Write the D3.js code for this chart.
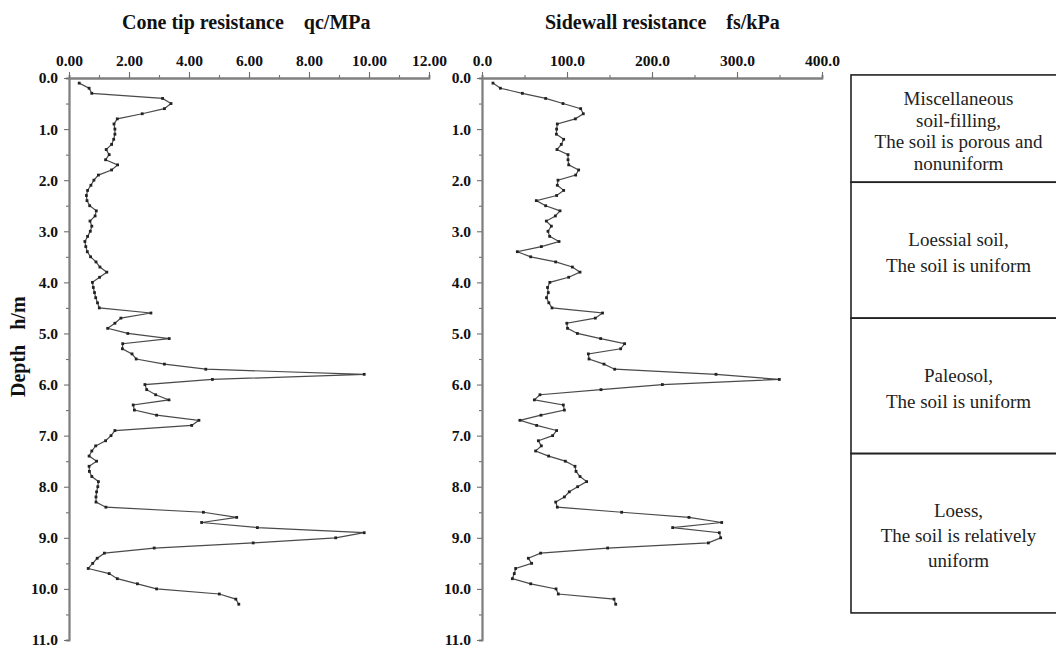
<!DOCTYPE html>
<html>
<head>
<meta charset="utf-8">
<script src="https://cdn.jsdelivr.net/npm/d3@7"></script>
<style>
  body { margin: 0; background: #fff; }
  text { font-family: "Liberation Serif", "Times New Roman", serif; }
</style>
</head>
<body>
<svg id="chart" width="1056" height="651"></svg>
<script>
// depth of each sounding reading (m)
const depth = [0.1,0.2,0.3,0.4,0.5,0.6,0.7,0.8,0.9,1.0,1.1,1.2,1.3,1.4,1.5,1.6,1.7,1.8,1.9,2.0,
  2.1,2.2,2.3,2.4,2.5,2.6,2.7,2.8,2.9,3.0,3.1,3.2,3.3,3.4,3.5,3.6,3.7,3.8,3.9,4.0,
  4.1,4.2,4.3,4.4,4.5,4.6,4.7,4.8,4.9,5.0,5.1,5.2,5.3,5.4,5.5,5.6,5.7,5.8,5.9,6.0,
  6.1,6.2,6.3,6.4,6.5,6.6,6.7,6.8,6.9,7.0,7.1,7.2,7.3,7.4,7.5,7.6,7.7,7.8,7.9,8.0,
  8.1,8.2,8.3,8.4,8.5,8.6,8.7,8.8,8.9,9.0,9.1,9.2,9.3,9.4,9.5,9.6,9.7,9.8,9.9,10.0,
  10.1,10.2,10.3];

// cone tip resistance qc (MPa)
const qc = [0.34,0.67,0.76,3.12,3.40,3.18,2.44,1.61,1.50,1.53,1.53,1.49,1.42,1.24,1.34,1.22,1.62,1.42,0.98,0.83,
  0.73,0.62,0.58,0.60,0.69,0.91,0.87,0.70,0.76,0.71,0.62,0.53,0.56,0.61,0.72,0.90,1.03,1.26,1.02,0.78,
  0.81,0.85,0.89,0.95,1.01,2.73,1.73,1.53,1.29,1.96,3.34,1.79,1.78,2.10,2.24,3.18,4.56,9.84,4.78,2.53,
  2.59,2.89,3.33,2.14,2.18,2.92,4.33,4.09,1.53,1.40,1.22,0.89,0.76,0.67,0.92,0.67,0.68,0.76,0.98,0.96,
  0.92,0.90,0.90,1.23,4.48,5.59,4.42,6.28,9.84,8.89,6.14,2.84,1.18,0.94,0.79,0.64,1.34,1.61,2.28,2.92,
  5.01,5.56,5.66];

// sidewall resistance fs (kPa)
const fs = [12.9,21.6,47.5,74.9,95.3,116.1,119.2,109.8,88.6,87.8,87.5,96.1,93.3,88.2,101.2,101.2,102.0,113.7,110.2,89.4,
  88.6,96.1,87.8,63.9,74.9,91.8,86.3,75.7,81.6,77.6,79.6,90.6,69.8,41.6,57.3,86.7,106.3,115.3,102.0,79.8,
  77.1,78.0,75.9,78.6,82.4,141.8,133.3,99.8,100.6,112.2,139.6,167.8,163.1,125.1,125.9,143.5,156.1,275.3,349.8,212.2,
  140.0,68.2,61.6,95.7,96.9,69.4,44.7,64.3,87.8,83.1,66.3,69.8,63.1,78.4,98.0,109.4,110.6,115.3,123.1,112.5,
  102.7,96.9,86.7,88.6,164.3,243.5,282.0,224.3,279.2,280.8,266.3,147.8,69.0,54.5,58.4,39.6,38.0,35.7,57.3,87.1,
  89.8,155.3,157.3];

const qcTicks = [0, 2, 4, 6, 8, 10, 12];
const fsTicks = [0, 100, 200, 300, 400];
const depthTicks = [0, 1, 2, 3, 4, 5, 6, 7, 8, 9, 10, 11];

// soil layers: boundaries (m) and description lines
const layerTop = [-0.06, 2.04, 4.7, 7.35];
const layerBottom = [2.04, 4.7, 7.35, 10.47];
const layerText = [
  ["Miscellaneous", "soil-filling,", "The soil is porous and", "nonuniform"],
  ["Loessial soil,", "The soil is uniform"],
  ["Paleosol,", "The soil is uniform"],
  ["Loess,", "The soil is relatively", "uniform"]
];
const layerGap = [21.7, 26, 26, 25];

const NB = "\u00A0";
const svg = d3.select("#chart");
const y = d3.scaleLinear().domain([0, 11]).range([78, 640]);
const xQ = d3.scaleLinear().domain([0, 12]).range([69, 429]);
const xF = d3.scaleLinear().domain([0, 400]).range([482, 822]);

function drawPanel(x, values, majors, minorStep, fmt, title, titleX) {
  const g = svg.append("g");
  const x0 = x.range()[0];

  // minor ticks
  g.append("g")
    .attr("transform", `translate(0,${y(0)})`)
    .call(d3.axisTop(x).tickValues(d3.range(0, x.domain()[1] + 1e-9, minorStep)).tickSize(3).tickFormat(""));
  g.append("g")
    .attr("transform", `translate(${x0},0)`)
    .call(d3.axisLeft(y).tickValues(d3.range(0.5, 11, 1)).tickSize(3).tickFormat(""));

  g.append("g")
    .attr("transform", `translate(0,${y(0)})`)
    .call(d3.axisTop(x).tickValues(majors).tickSize(6).tickSizeOuter(0).tickPadding(6).tickFormat(fmt));
  g.append("g")
    .attr("transform", `translate(${x0},0)`)
    .call(d3.axisLeft(y).tickValues(depthTicks).tickSize(5).tickSizeOuter(0).tickPadding(6).tickFormat(d3.format(".1f")));

  g.selectAll(".domain").attr("stroke", "#808080").attr("stroke-width", 1.8);
  g.selectAll(".tick line").attr("stroke", "#707070").attr("stroke-width", 1.1);
  g.selectAll(".tick text")
    .attr("fill", "#111")
    .style("font-size", "15.5px")
    .style("font-weight", "bold")
    .style("font-family", "'Liberation Serif', serif");

  g.append("text")
    .attr("x", titleX)
    .attr("y", 29)
    .style("font-size", "20px")
    .style("font-weight", "bold")
    .attr("fill", "#111")
    .text(title);

  const line = d3.line()
    .x((d, i) => x(values[i]))
    .y(d => y(d));

  g.append("path")
    .datum(depth)
    .attr("d", line)
    .attr("fill", "none")
    .attr("stroke", "#4a4a4a")
    .attr("stroke-width", 1.2);

  g.selectAll("rect.pt")
    .data(depth)
    .enter().append("rect")
    .attr("class", "pt")
    .attr("x", (d, i) => x(values[i]) - 1.4)
    .attr("y", d => y(d) - 1.4)
    .attr("width", 2.8)
    .attr("height", 2.8)
    .attr("fill", "#222");
}

drawPanel(xQ, qc, qcTicks, 1, d3.format(".2f"), "Cone tip resistance" + NB.repeat(4) + "qc/MPa", 122);
drawPanel(xF, fs, fsTicks, 50, d3.format(".1f"), "Sidewall resistance" + NB.repeat(4) + "fs/kPa", 545);

svg.append("text")
  .attr("transform", `translate(25,${y(5.26)}) rotate(-90)`)
  .attr("text-anchor", "middle")
  .style("font-size", "20px")
  .style("font-weight", "bold")
  .attr("fill", "#111")
  .text("Depth" + NB.repeat(3) + "h/m");

// soil description column
const boxLeft = 851, boxRight = 1066;
const layers = svg.append("g");
layers.selectAll("rect")
  .data(layerTop)
  .enter().append("rect")
  .attr("x", boxLeft)
  .attr("y", d => y(d))
  .attr("width", boxRight - boxLeft)
  .attr("height", (d, i) => y(layerBottom[i]) - y(d))
  .attr("fill", "none")
  .attr("stroke", "#222")
  .attr("stroke-width", 1.6);

layerText.forEach((lines, i) => {
  const mid = (y(layerTop[i]) + y(layerBottom[i])) / 2 + 3;
  const gap = layerGap[i];
  const start = mid - (lines.length - 1) * gap / 2;
  layers.selectAll(null)
    .data(lines)
    .enter().append("text")
    .attr("x", (boxLeft + boxRight) / 2)
    .attr("y", (d, j) => start + j * gap + 6)
    .attr("text-anchor", "middle")
    .style("font-size", "19px")
    .attr("fill", "#222")
    .text(d => d);
});
</script>
</body>
</html>
